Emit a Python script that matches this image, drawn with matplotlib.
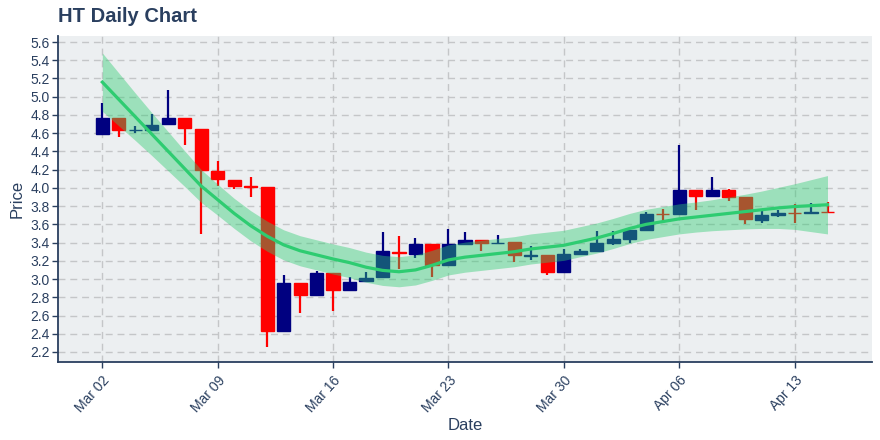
import matplotlib
matplotlib.use("Agg")
import matplotlib.pyplot as plt
import numpy as np

# ---- data ----
dates = ["Mar 02", "Mar 03", "Mar 04", "Mar 05", "Mar 06", "Mar 07", "Mar 08", "Mar 09", "Mar 10",
         "Mar 11", "Mar 12", "Mar 13", "Mar 14", "Mar 15", "Mar 16", "Mar 17", "Mar 18", "Mar 19",
         "Mar 20", "Mar 21", "Mar 22", "Mar 23", "Mar 24", "Mar 25", "Mar 26", "Mar 27", "Mar 28",
         "Mar 29", "Mar 30", "Mar 31", "Apr 01", "Apr 02", "Apr 03", "Apr 04", "Apr 05", "Apr 06",
         "Apr 07", "Apr 08", "Apr 09", "Apr 10", "Apr 11", "Apr 12", "Apr 13", "Apr 14", "Apr 15"]

open_ = [4.59, 4.77, 4.63, 4.64, 4.70, 4.77, 4.65, 4.19, 4.09, 4.02, 4.01, 2.43, 2.96, 2.82, 3.07,
         2.88, 2.975, 3.02, 3.30, 3.28, 3.385, 3.15, 3.38, 3.43, 3.39, 3.41, 3.255, 3.26, 3.08,
         3.28, 3.31, 3.39, 3.44, 3.54, 3.715, 3.715, 3.975, 3.91, 3.975, 3.90, 3.65, 3.705, 3.725,
         3.725, 3.74]
high = [4.93, 4.77, 4.68, 4.81, 5.07, 4.77, 4.65, 4.30, 4.09, 4.12, 4.01, 3.04, 2.96, 3.09, 3.07,
        3.02, 3.08, 3.52, 3.47, 3.45, 3.385, 3.55, 3.52, 3.43, 3.48, 3.41, 3.36, 3.26, 3.33,
        3.33, 3.53, 3.53, 3.54, 3.74, 3.77, 4.465, 3.975, 4.12, 3.99, 3.90, 3.76, 3.76, 3.82,
        3.83, 3.84]
low = [4.59, 4.56, 4.60, 4.64, 4.70, 4.47, 3.49, 4.02, 3.99, 3.90, 2.26, 2.43, 2.63, 2.82, 2.65,
       2.88, 2.975, 3.02, 3.11, 3.23, 3.02, 3.15, 3.38, 3.31, 3.39, 3.19, 3.21, 3.04, 3.08,
       3.28, 3.31, 3.375, 3.40, 3.54, 3.64, 3.715, 3.76, 3.91, 3.855, 3.60, 3.61, 3.68, 3.62,
       3.713, 3.72]
close = [4.77, 4.63, 4.64, 4.69, 4.77, 4.655, 4.20, 4.10, 4.02, 4.01, 2.43, 2.96, 2.82, 3.07, 2.88,
         2.97, 3.015, 3.31, 3.29, 3.385, 3.15, 3.385, 3.43, 3.39, 3.40, 3.26, 3.265, 3.08, 3.28,
         3.31, 3.40, 3.44, 3.54, 3.714, 3.71, 3.975, 3.915, 3.975, 3.905, 3.655, 3.703, 3.72, 3.72,
         3.74, 3.735]

trend = [5.16, 4.97, 4.78, 4.59, 4.40, 4.21, 4.02, 3.87, 3.72, 3.585, 3.47, 3.375, 3.31, 3.265,
         3.22, 3.18, 3.13, 3.095, 3.08, 3.10, 3.15, 3.21, 3.24, 3.26, 3.28, 3.30, 3.33, 3.35,
         3.37, 3.41, 3.45, 3.50, 3.555, 3.60, 3.63, 3.66, 3.68, 3.70, 3.72, 3.74, 3.76, 3.78,
         3.795, 3.805, 3.815]
band_upper = [5.48, 5.26, 5.04, 4.825, 4.615, 4.405, 4.20, 4.04, 3.885, 3.75, 3.635, 3.54, 3.475,
              3.43, 3.385, 3.345, 3.295, 3.26, 3.245, 3.265, 3.315, 3.375, 3.405, 3.425, 3.445,
              3.465, 3.495, 3.515, 3.535, 3.575, 3.615, 3.665, 3.72, 3.765, 3.795, 3.825, 3.845,
              3.87, 3.90, 3.93, 3.965, 4.005, 4.045, 4.09, 4.135]
band_lower = [4.84, 4.68, 4.52, 4.355, 4.185, 4.015, 3.84, 3.70, 3.555, 3.42, 3.305, 3.21, 3.145,
              3.10, 3.055, 3.015, 2.965, 2.93, 2.915, 2.935, 2.985, 3.045, 3.075, 3.095, 3.115,
              3.135, 3.165, 3.185, 3.205, 3.245, 3.285, 3.335, 3.39, 3.435, 3.465, 3.495, 3.515,
              3.53, 3.54, 3.55, 3.555, 3.555, 3.545, 3.52, 3.495]

tick_days = [0, 7, 14, 21, 28, 35, 42]
tick_labels = ["Mar 02", "Mar 09", "Mar 16", "Mar 23", "Mar 30", "Apr 06", "Apr 13"]
y_ticks = [2.2, 2.4, 2.6, 2.8, 3.0, 3.2, 3.4, 3.6, 3.8, 4.0, 4.2, 4.4, 4.6, 4.8, 5.0, 5.2, 5.4, 5.6]

# ---- style ----
plt.rcParams['font.family'] = ['Liberation Sans', 'DejaVu Sans']
TXT = '#2a3f5f'
INC = '#000080'
DEC = '#ff0000'
GREEN = '#2ecc71'

fig = plt.figure(figsize=(8.8, 4.4), dpi=100)
ax = fig.add_axes([58/880, 1-362/440, (872-58)/880, (362-36)/440])
ax.set_facecolor('#eceff1')

x = np.arange(len(dates))

for i in range(len(dates)):
    o, h, l, c = open_[i], high[i], low[i], close[i]
    col = INC if c >= o else DEC
    ax.vlines(x[i], l, h, color=col, lw=1.6, zorder=2)
    bottom = min(o, c)
    height = max(abs(c - o), 0.004)
    ax.bar(x[i], height, bottom=bottom, width=0.8, color=col, edgecolor=col, lw=1.0, zorder=2)

ax.fill_between(x, band_lower, band_upper, color=GREEN, alpha=0.42, lw=0, zorder=3)
ax.plot(x, trend, color=GREEN, lw=2.3, zorder=4, solid_joinstyle='round')

ax.set_xlim(-2.69, 46.7)
ax.set_ylim(2.09, 5.666)
ax.set_xticks(tick_days)
ax.set_xticklabels(tick_labels, rotation=48, ha='right', rotation_mode='anchor')
ax.set_yticks(y_ticks)
ax.set_yticklabels([f"{v:.1f}" for v in y_ticks])

ax.grid(True, color='#c4c6c8', linestyle=(0, (5, 3.5)), lw=1.0, zorder=0)
ax.set_axisbelow(True)

for s in ['top', 'right']:
    ax.spines[s].set_visible(False)
for s in ['left', 'bottom']:
    ax.spines[s].set_color(TXT)
    ax.spines[s].set_linewidth(1.3)

ax.tick_params(axis='both', colors=TXT, labelsize=10, length=4, width=1.0, direction='out')
ax.tick_params(axis='x', pad=4)
ax.tick_params(axis='y', pad=2)

ax.set_xlabel('Date', color=TXT, fontsize=12, labelpad=2)
ax.set_ylabel('Price', color=TXT, fontsize=12, labelpad=4)

fig.text(58/880, 1-17/440, 'HT Daily Chart', color=TXT, fontsize=14.5, fontweight='bold',
         ha='left', va='center')

fig.savefig('out.png', dpi=100)
